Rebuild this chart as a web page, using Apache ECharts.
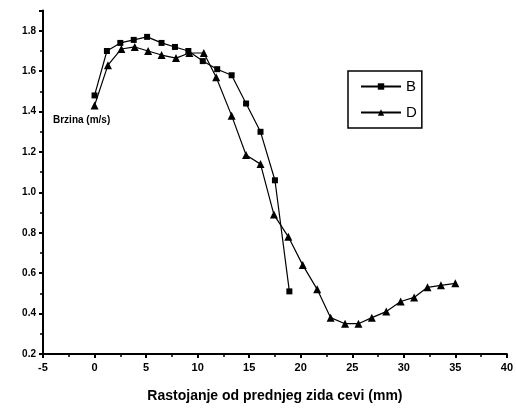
<!DOCTYPE html>
<html><head><meta charset="utf-8">
<script src="https://cdn.jsdelivr.net/npm/echarts@6/dist/echarts.min.js"></script>
<style>html,body{margin:0;padding:0;background:#fff}#c{width:516px;height:413px}</style>
</head><body><div id="c"></div>
<script>
const xB = [0, 1.2, 2.5, 3.8, 5.1, 6.5, 7.8, 9.1, 10.5, 11.9, 13.3, 14.7, 16.1, 17.5, 18.9];
const yB = [1.48, 1.70, 1.74, 1.755, 1.77, 1.74, 1.72, 1.70, 1.65, 1.61, 1.58, 1.44, 1.30, 1.06, 0.51];
const xD = [0, 1.3, 2.6, 3.9, 5.2, 6.5, 7.9, 9.2, 10.6, 11.8, 13.3, 14.7, 16.1, 17.4, 18.8, 20.2, 21.6, 22.9, 24.3, 25.6, 26.9, 28.3, 29.7, 31.0, 32.3, 33.6, 35.0];
const yD = [1.43, 1.63, 1.71, 1.72, 1.70, 1.68, 1.665, 1.69, 1.69, 1.57, 1.38, 1.185, 1.14, 0.89, 0.78, 0.64, 0.52, 0.38, 0.35, 0.35, 0.38, 0.41, 0.46, 0.48, 0.53, 0.54, 0.55];
const seriesNames = ['B', 'D'];
const xTitle = 'Rastojanje od prednjeg zida cevi (mm)';
const yTitle = 'Brzina (m/s)';

const pairs = (xs, ys) => xs.map((x, i) => [x, ys[i]]);
const font = 'Liberation Sans';
const chart = echarts.init(document.getElementById('c'));
chart.setOption({
  animation: false,
  backgroundColor: '#fff',
  grid: { left: 43, right: 7, top: 10.6, bottom: 59 },
  xAxis: {
    type: 'value', min: -5, max: 40, interval: 5,
    axisLine: { onZero: false, lineStyle: { color: '#000', width: 2 } },
    axisTick: { inside: false, length: 4, lineStyle: { color: '#000', width: 2 } },
    minorTick: { show: true, splitNumber: 2, length: 3, lineStyle: { color: '#000', width: 1.5 } },
    splitLine: { show: false },
    axisLabel: { color: '#000', fontFamily: font, fontWeight: 'bold', fontSize: 11, margin: 8 },
    name: xTitle, nameLocation: 'middle', nameGap: 35,
    nameTextStyle: { color: '#000', fontFamily: font, fontWeight: 'bold', fontSize: 14 }
  },
  yAxis: {
    type: 'value', min: 0.2, max: 1.9, interval: 0.2,
    axisLine: { show: true, onZero: false, lineStyle: { color: '#000', width: 2 } },
    axisTick: { show: true, length: 4, lineStyle: { color: '#000', width: 2 } },
    minorTick: { show: true, splitNumber: 2, length: 3, lineStyle: { color: '#000', width: 1.5 } },
    splitLine: { show: false },
    axisLabel: { color: '#000', fontFamily: font, fontWeight: 'bold', fontSize: 10, margin: 7,
      showMaxLabel: false, formatter: v => v.toFixed(1) }
  },
  legend: {
    left: 348, top: 71, orient: 'vertical',
    data: seriesNames,
    itemWidth: 40, itemHeight: 8, itemGap: 11,
    padding: [8, 5, 8, 12],
    borderColor: '#000', borderWidth: 1.5,
    textStyle: { color: '#000', fontFamily: font, fontSize: 15 }
  },
  graphic: [{
    type: 'text', left: 53, top: 115,
    style: { text: yTitle, fill: '#000', font: 'bold 10px "Liberation Sans"' }
  }],
  series: [
    { name: seriesNames[0], type: 'line', data: pairs(xB, yB), symbol: 'rect', symbolSize: 6,
      itemStyle: { color: '#000' }, lineStyle: { color: '#000', width: 1.2 } },
    { name: seriesNames[1], type: 'line', data: pairs(xD, yD), symbol: 'triangle', symbolSize: 8,
      itemStyle: { color: '#000' }, lineStyle: { color: '#000', width: 1.2 } }
  ]
});
</script></body></html>
